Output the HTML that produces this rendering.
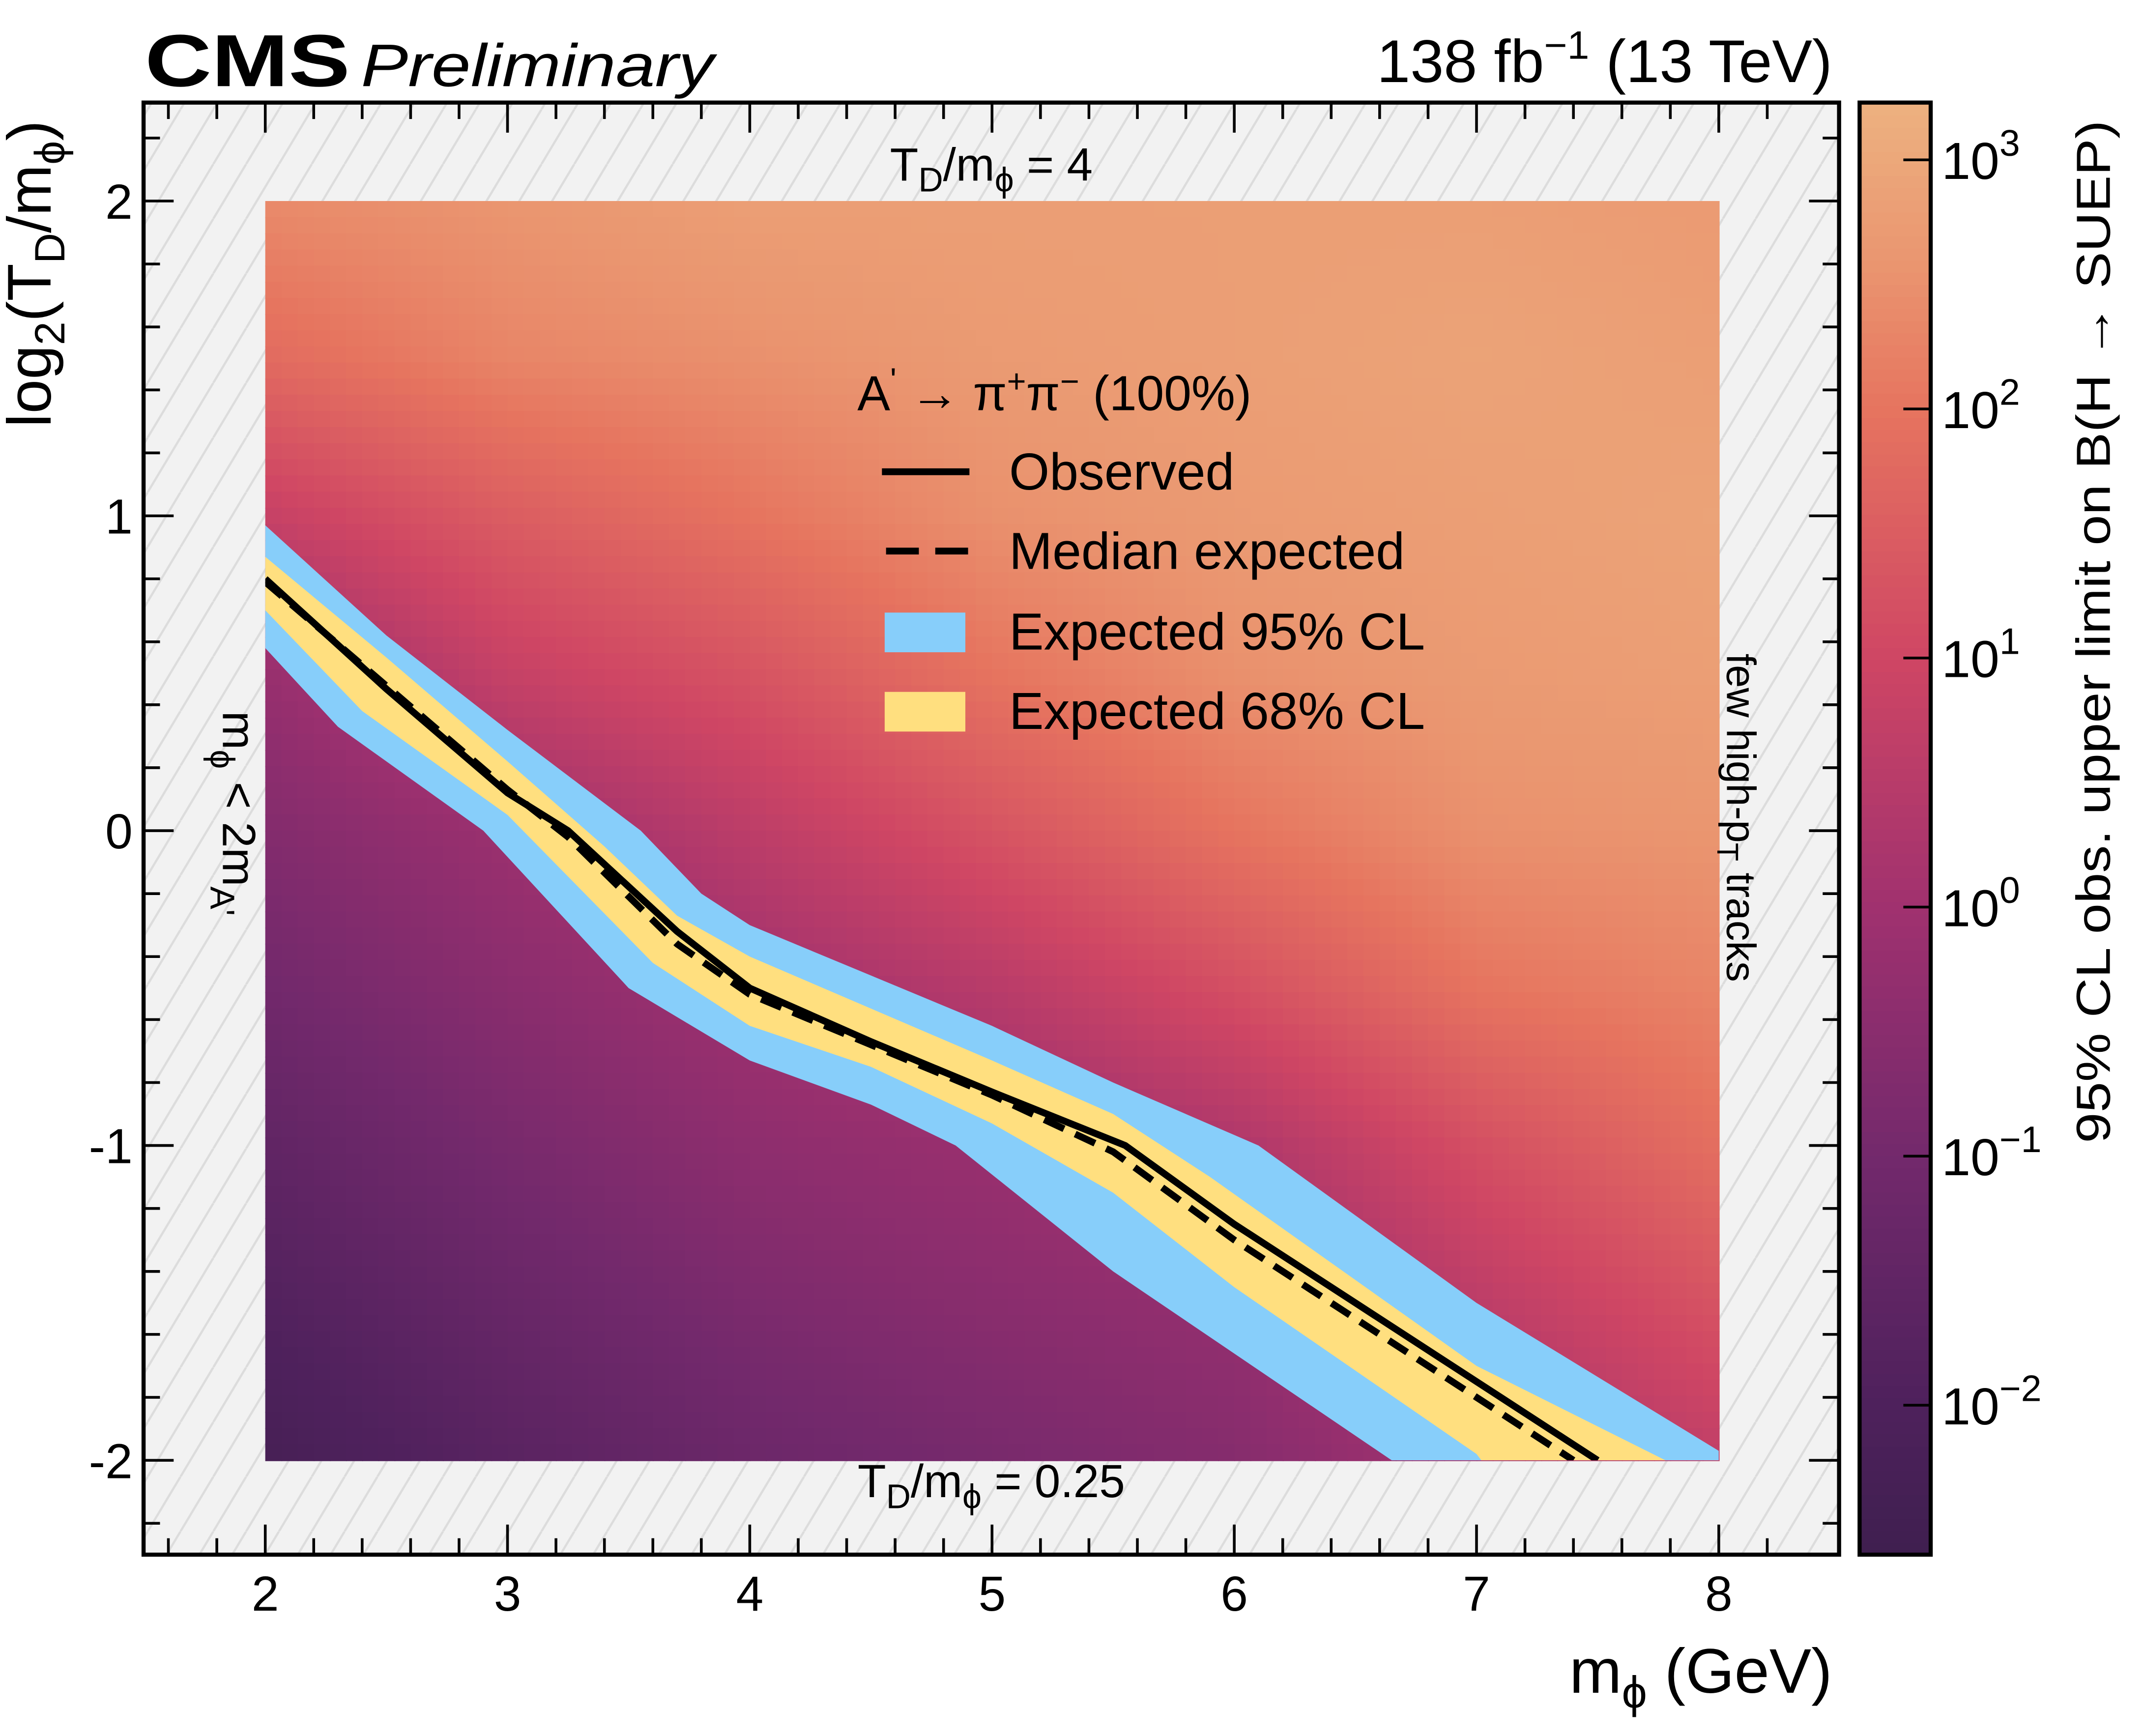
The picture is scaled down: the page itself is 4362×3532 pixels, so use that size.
<!DOCTYPE html>
<html><head><meta charset="utf-8"><style>
html,body{margin:0;padding:0;background:#fff}
svg{display:block}
text{font-family:"Liberation Sans",sans-serif;fill:#000}
</style></head><body>
<svg id="chart" width="4362" height="3532" viewBox="0 0 1568 1269.6" xmlns="http://www.w3.org/2000/svg">
<defs>
<pattern id="hatch" patternUnits="userSpaceOnUse" width="24" height="40">
<rect width="24" height="40" fill="#f2f2f2"/>
<line x1="-12" y1="40" x2="12" y2="0" stroke="#dcdcdc" stroke-width="1.6"/>
<line x1="12" y1="40" x2="36" y2="0" stroke="#dcdcdc" stroke-width="1.6"/>
</pattern>
<clipPath id="dataclip"><rect x="194" y="147" width="1063" height="921"/></clipPath>
</defs>
<rect x="105" y="75" width="1240" height="1062" fill="url(#hatch)"/>
<g id="heat"></g>
<g id="bands" clip-path="url(#dataclip)"></g>
<g id="lines" clip-path="url(#dataclip)"></g>
<g id="ticks"></g>
<rect x="105" y="75" width="1240" height="1062" fill="none" stroke="#000" stroke-width="3"/>
<g id="cbar"></g>

<text x="106" y="63" font-size="54" font-weight="bold" textLength="150" lengthAdjust="spacingAndGlyphs">CMS</text>
<text x="264" y="63" font-size="44" font-style="italic" textLength="258" lengthAdjust="spacingAndGlyphs">Preliminary</text>
<text x="1340" y="60" font-size="44" text-anchor="end">138 fb<tspan dy="-17" font-size="29">−1</tspan><tspan dy="17"> (13 TeV)</tspan></text>
<text x="1340" y="1238" font-size="46" text-anchor="end">m<tspan dy="11" font-size="33">ϕ</tspan><tspan dy="-11"> (GeV)</tspan></text>
<text transform="translate(37,88) rotate(-90)" font-size="45" text-anchor="end">log<tspan dy="10" font-size="31">2</tspan><tspan dy="-10">(T</tspan><tspan dy="10" font-size="31">D</tspan><tspan dy="-10">/m</tspan><tspan dy="10" font-size="31">ϕ</tspan><tspan dy="-10">)</tspan></text>
<text transform="translate(1543,88) rotate(-90)" font-size="35" text-anchor="end" textLength="748" lengthAdjust="spacingAndGlyphs">95% CL obs. upper limit on B(H  →  SUEP)</text>

<text x="725" y="132" font-size="34" text-anchor="middle">T<tspan dy="8" font-size="25">D</tspan><tspan dy="-8">/m</tspan><tspan dy="8" font-size="25">ϕ</tspan><tspan dy="-8"> = 4</tspan></text>
<text x="725" y="1095" font-size="34" text-anchor="middle">T<tspan dy="8" font-size="25">D</tspan><tspan dy="-8">/m</tspan><tspan dy="8" font-size="25">ϕ</tspan><tspan dy="-8"> = 0.25</tspan></text>
<text transform="translate(163,520) rotate(90)" font-size="34">m<tspan dy="9" font-size="25">ϕ</tspan><tspan dy="-9"> &lt; 2m</tspan><tspan dy="9" font-size="25">A'</tspan></text>
<text transform="translate(1263,478) rotate(90)" font-size="30">few high-p<tspan dy="7" font-size="22">T</tspan><tspan dy="-7"> tracks</tspan></text>

<g>
<text x="627" y="300" font-size="36">A<tspan dy="-14" font-size="24">'</tspan><tspan dy="14"> → π</tspan><tspan dy="-13" font-size="24">+</tspan><tspan dy="13">π</tspan><tspan dy="-13" font-size="24">−</tspan><tspan dy="13"> (100%)</tspan></text>
<line x1="645" y1="345" x2="709" y2="345" stroke="#000" stroke-width="5"/>
<text x="738" y="358" font-size="38">Observed</text>
<line x1="648" y1="403" x2="708" y2="403" stroke="#000" stroke-width="5" stroke-dasharray="24,12"/>
<text x="738" y="416" font-size="38">Median expected</text>
<rect x="647" y="448" width="59" height="29" fill="#87cefa"/>
<text x="738" y="475" font-size="38">Expected 95% CL</text>
<rect x="647" y="506" width="59" height="29" fill="#ffdf7f"/>
<text x="738" y="533" font-size="38">Expected 68% CL</text>
</g>
</svg>
<script>
// ---- data ----
const gridX = [2,3,4,5,6,7,8];
const gridY = [2,1.5,1,0.5,0,-0.5,-1,-1.5,-2];
// log10 limit values, rows follow gridY, columns follow gridX
const logLimit = [
 [2.4,2.6,2.8,2.8,2.8,2.8,2.7],
 [1.8,2.3,2.5,2.7,2.8,2.9,2.8],
 [0.8,1.5,2.0,2.5,2.7,2.8,2.9],
 [-0.2,0.8,1.3,2.0,2.5,2.7,2.8],
 [-0.65,-0.1,0.6,1.3,2.0,2.5,2.6],
 [-1.05,-0.5,0.0,0.5,1.2,2.0,2.3],
 [-1.5,-0.9,-0.4,-0.15,0.3,1.2,1.9],
 [-1.9,-1.3,-0.8,-0.5,-0.25,0.6,1.3],
 [-2.3,-1.7,-1.2,-0.9,-0.6,0.1,0.7]
];
const obsX = [2,2.5,3,3.25,3.7,4,4.5,5,5.55,6,6.5,7.1,7.5];
const obsY = [0.8,0.45,0.12,0,-0.32,-0.5,-0.67,-0.83,-1,-1.25,-1.5,-1.8,-2];
const expX = [2,2.5,3,3.25,3.7,4,4.5,5,5.5,6,6.5,7,7.4];
const expY = [0.79,0.46,0.13,-0.02,-0.36,-0.52,-0.68,-0.84,-1.02,-1.3,-1.55,-1.8,-2];
const up95X = [2,2.5,3,3.55,3.8,4,5,5.5,6.1,7,8,8];
const up95Y = [0.97,0.62,0.32,0,-0.2,-0.3,-0.62,-0.8,-1,-1.5,-1.97,-2];
const lo95X = [2,2.3,2.9,3.5,4,4.5,4.85,5.5,6.65];
const lo95Y = [0.58,0.33,0,-0.5,-0.73,-0.87,-1,-1.4,-2];
const up68X = [2,2.5,3,3.4,3.7,4,5,5.5,5.9,7,7.78];
const up68Y = [0.87,0.55,0.22,-0.05,-0.27,-0.4,-0.73,-0.9,-1.1,-1.7,-2];
const lo68X = [2,2.4,3,3.6,4,4.5,5,5.5,6,7,7.02];
const lo68Y = [0.7,0.38,0.05,-0.42,-0.62,-0.75,-0.93,-1.15,-1.45,-1.98,-2];
const xTickLabels = ["2","3","4","5","6","7","8"];
const yTickLabels = ["-2","-1","0","1","2"];
const cbarDecades = [-2,-1,0,1,2,3];
const cbarMin = -2.6, cbarMax = 3.23;

// ---- axes ----
const X0=194, XU=177.17, Y0=607.5, YU=230.25;
const sx = v => X0 + (v-2)*XU;
const sy = v => Y0 - v*YU;
const CB_TOP=75, CB_BOT=1137;
const sc = v => CB_BOT - (v-cbarMin)/(cbarMax-cbarMin)*(CB_BOT-CB_TOP);
const NS='http://www.w3.org/2000/svg';
function mk(tag, attrs, parent){const e=document.createElementNS(NS,tag);for(const k in attrs)e.setAttribute(k,attrs[k]);parent.appendChild(e);return e;}

const stops=[[-2.6,[63,31,79]],[-2,[78,33,92]],[-1,[115,41,108]],[0,[160,49,111]],[1,[207,70,100]],[2,[230,116,95]],[2.6,[234,150,112]],[3.23,[237,177,128]]];
function cmap(v){
  if(v<=stops[0][0])return stops[0][1];
  for(let i=1;i<stops.length;i++){if(v<=stops[i][0]){const a=stops[i-1],b=stops[i];const t=(v-a[0])/(b[0]-a[0]);return a[1].map((c,j)=>Math.round(c+(b[1][j]-c)*t));}}
  return stops[stops.length-1][1];
}
function rgb(c){return 'rgb('+c.join(',')+')';}
function interp(x,y){
  let i=0;while(i<gridX.length-2&&x>gridX[i+1])i++;
  let j=0;while(j<gridY.length-2&&y<gridY[j+1])j++;
  const tx=(x-gridX[i])/(gridX[i+1]-gridX[i]), ty=(y-gridY[j])/(gridY[j+1]-gridY[j]);
  const a=logLimit[j][i],b=logLimit[j][i+1],c=logLimit[j+1][i],d=logLimit[j+1][i+1];
  return (a*(1-tx)+b*tx)*(1-ty)+(c*(1-tx)+d*tx)*ty;
}
// heatmap
const heat=document.getElementById('heat');
const NX=90,NY=78;
for(let a=0;a<NX;a++){for(let b=0;b<NY;b++){
  const x0=2+6*a/NX,x1=2+6*(a+1)/NX,y0=2-4*b/NY,y1=2-4*(b+1)/NY;
  const v=interp((x0+x1)/2,(y0+y1)/2);
  const r=mk('rect',{x:sx(x0),y:sy(y0),width:sx(x1)-sx(x0)+0.6,height:sy(y1)-sy(y0)+0.6,fill:rgb(cmap(v))},heat);
  
  
}}
// bands
function pts(xs,ys){return xs.map((x,i)=>sx(x)+','+sy(ys[i]));}
const bands=document.getElementById('bands');
const b95=mk('polygon',{points:pts(up95X,up95Y).concat(pts(lo95X,lo95Y).reverse()).join(' '),fill:'#87cefa'},bands);


const b68=mk('polygon',{points:pts(up68X,up68Y).concat(pts(lo68X,lo68Y).reverse()).join(' '),fill:'#ffdf7f'},bands);


const lines=document.getElementById('lines');
const le=mk('polyline',{points:pts(expX,expY).join(' '),fill:'none',stroke:'#000','stroke-width':5,'stroke-dasharray':'16,9'},lines);


const lo=mk('polyline',{points:pts(obsX,obsY).join(' '),fill:'none',stroke:'#000','stroke-width':5},lines);



// ticks
const tk=document.getElementById('ticks');
const L=105,R=1345,T=75,B=1137;
function tl(x1,y1,x2,y2){const l=mk('line',{x1,y1,x2,y2,stroke:'#000','stroke-width':2},tk);}
for(let k=-3;k<=33;k++){const v=1.5+k*0.2+0.1;const x=sx(Math.round(v*10)/10);if(x<L+2||x>R-2)continue;const major=Math.abs(v-Math.round(v))<1e-6;const len=major?22:12;tl(x,B,x,B-len);tl(x,T,x,T+len);}
xTickLabels.forEach((s,i)=>{const t=mk('text',{x:sx(+s),y:1178,'font-size':36,'text-anchor':'middle'},tk);t.textContent=s;});
for(let k=-12;k<=12;k++){const v=k*0.2;const y=sy(v);if(y<T+2||y>B-2)continue;const major=k%5===0;const len=major?22:12;tl(L,y,L+len,y);tl(R,y,R-len,y);}
yTickLabels.forEach(s=>{const t=mk('text',{x:97,y:sy(+s)+13,'font-size':36,'text-anchor':'end'},tk);t.textContent=s;});

// colorbar
const cb=document.getElementById('cbar');
const N=120;
for(let i=0;i<N;i++){const v0=cbarMin+(cbarMax-cbarMin)*i/N,v1=cbarMin+(cbarMax-cbarMin)*(i+1)/N;const r=mk('rect',{x:1360,y:sc(v1),width:52,height:sc(v0)-sc(v1)+0.6,fill:rgb(cmap((v0+v1)/2))},cb);}
const fr=mk('rect',{x:1360,y:CB_TOP,width:52,height:CB_BOT-CB_TOP,fill:'none',stroke:'#000','stroke-width':3},cb);


cbarDecades.forEach(d=>{const y=sc(d);const l=mk('line',{x1:1412,y1:y,x2:1392,y2:y,stroke:'#000','stroke-width':2},cb);
 const t=mk('text',{x:1420,y:y+14,'font-size':38},cb);
 t.appendChild(document.createTextNode('10'));const s=mk('tspan',{dy:-17,'font-size':27},t);s.textContent=d<0?'−'+(-d):String(d);});
</script>
</body></html>
